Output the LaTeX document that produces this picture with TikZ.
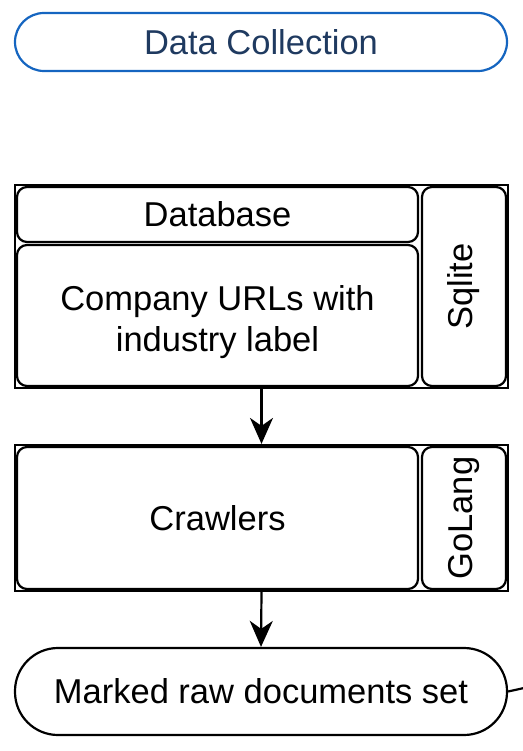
\documentclass[tikz,border=0pt]{standalone}
\usepackage{fontspec}
\setmainfont{Liberation Sans}
\usetikzlibrary{arrows.meta}
\definecolor{pillblue}{HTML}{1565C0}
\definecolor{pilltext}{HTML}{1F3A60}
\tikzset{
    frame/.style={draw, line width=2.2pt, inner sep=0pt},
    cell/.style={draw, line width=2.2pt, rounded corners=10pt, inner sep=0pt, align=center,
        font=\fontsize{34.5}{41}\selectfont},
    celltext/.style={inner sep=0pt, align=center, font=\fontsize{34.5}{41}\selectfont},
    pill/.style={draw, line width=2.2pt, inner sep=0pt, align=center,
        font=\fontsize{34.5}{41}\selectfont},
    flow/.style={line width=2.2pt, -{Stealth[length=26pt, width=23pt, inset=8pt]}}
}
\begin{document}
\begin{tikzpicture}[x=1pt, y=-1pt]
\useasboundingbox (0,0) rectangle (522,751);
\def\cellW{401pt}
\def\sideW{84pt}
% title
\node[pill, draw=pillblue, text=pilltext, rounded corners=29pt,
    minimum width=492pt, minimum height=58pt] (title) at (261,42) {Data Collection};
% database block
\node[frame, minimum width=493pt, minimum height=203pt] (dbframe) at (261.5,286.5) {};
\node[cell, minimum width=\cellW, minimum height=55pt] (dbhead) at (217.5,214.5) {Database};
\node[cell, minimum width=\cellW, minimum height=141pt] (dbbody) at (217.5,315.5) {};
\node[celltext] (dbbodytext) at (217.5,322) {Company URLs with\\industry label};
\node[cell, minimum width=\sideW, minimum height=199pt] (sqlite) at (464,286.5) {};
\node[celltext, rotate=90] (sqlitetext) at (sqlite.center) {Sqlite};
% crawler block
\node[frame, minimum width=493pt, minimum height=146pt] (crawlframe) at (261.5,518) {};
\node[cell, minimum width=\cellW, minimum height=142pt] (crawlers) at (217.5,518) {Crawlers};
\node[cell, minimum width=\sideW, minimum height=142pt] (golang) at (464,518) {};
\node[celltext, rotate=90] (golangtext) at (golang.center) {GoLang};
% output
\node[pill, rounded corners=43pt, minimum width=492pt, minimum height=87pt] (marked) at (261,691.5) {Marked raw documents set};
\coordinate (exit) at (524,688);
% connectors
\draw[flow] (dbframe.south) -- (crawlframe.north);
\draw[flow] (crawlframe.south) -- (marked.north);
\draw[line width=2.2pt] (marked.east) -- (exit);
\end{tikzpicture}
\end{document}
